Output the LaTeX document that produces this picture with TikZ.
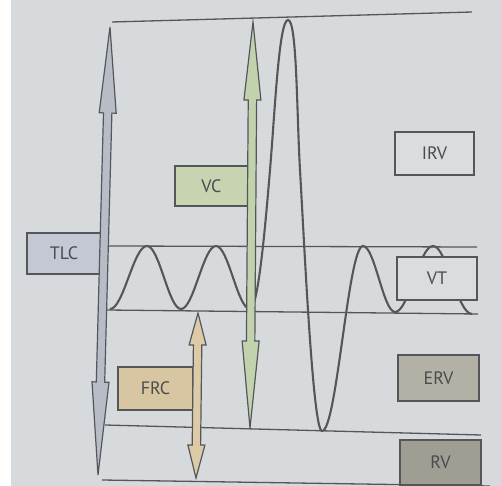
\documentclass[tikz,border=0pt]{standalone}
\usepackage{fontspec}
\setmainfont{PT Sans}
\usepackage{tikz}
\usetikzlibrary{calc}
\definecolor{paper}{HTML}{D7DADD}
\definecolor{linegray}{HTML}{55565A}
\definecolor{textgray}{HTML}{4A4B4D}
\definecolor{tlcfill}{HTML}{C4C7D4}
\definecolor{vcfill}{HTML}{C8D3B2}
\definecolor{frcfill}{HTML}{D8C6A2}
\definecolor{ervfill}{HTML}{B3B0A6}
\definecolor{rvfill}{HTML}{A09E93}
\definecolor{plainfill}{HTML}{DADCDF}
\definecolor{tlcarrow}{HTML}{B7BCC7}
\definecolor{vcarrow}{HTML}{C2D2AD}
\definecolor{frcarrow}{HTML}{DDCBA8}
\tikzset{
  volline/.style={draw=linegray,line width=1.3pt},
  breath/.style={draw=linegray,line width=2.1pt},
  volbox/.style={rectangle,draw=linegray,line width=1.4pt,minimum width=78pt,minimum height=43pt,inner sep=0pt,text=textgray,font=\fontsize{18}{20}\selectfont},
  arrowbody/.style={draw=linegray,line width=1.2pt,line join=miter}
}
% #1 fill, #2 lower tip, #3 upper tip, #4 lower head length, #5 upper head length
\newcommand{\volarrow}[5]{%
  \draw[arrowbody,fill=#1] let \p1=(#2), \p2=(#3),
      \n1={veclen(\x2-\x1,\y2-\y1)}, \n2={atan2(\y2-\y1,\x2-\x1)} in
    [shift={(\p1)},rotate=\n2]
    (0pt,0pt) -- (#4pt,8.5pt) -- (#4pt,4.2pt) -- ({\n1+0pt-#5pt},4.2pt) -- ({\n1+0pt-#5pt},8.5pt)
    -- ({\n1+0pt},0pt) -- ({\n1+0pt-#5pt},-8.5pt) -- ({\n1+0pt-#5pt},-4.2pt) -- (#4pt,-4.2pt)
    -- (#4pt,-8.5pt) -- cycle;}

\begin{document}
\begin{tikzpicture}[x=1pt,y=-1pt]
  \useasboundingbox (0,0) rectangle (501,486);
  \fill[white] (0,0) rectangle (501,486);
  \fill[paper] (11,0) rectangle (501,486);

  % volume levels
  \draw[volline] (112,22) -- (472,12);
  \draw[volline] (108,246) -- (477,247);
  \draw[volline] (107,310) -- (478,314);
  \draw[volline] (105,425) -- (481,435);
  \draw[volline] (102,480) -- (490,486);

  % breathing trace
  \draw[breath] (110,309) cos (128.5,277.5) sin (147,246) cos (164,277.5) sin (181,309)
    cos (198.5,277.5) sin (216,246) cos (233,277.5) sin (250,309)
    .. controls (258,309) and (265,230) .. (270,170)
    .. controls (275,110) and (279,20) .. (288,20)
    .. controls (297,20) and (296.6,110) .. (300,170)
    .. controls (304.6,250) and (313,431) .. (322,431)
    cos (342.5,338.5) sin (363,246) cos (379,279) sin (395,312)
    cos (414,279) sin (433,246) cos (452,280) sin (472,314);

  % boxes
  \node[volbox,fill=tlcfill,minimum width=74pt,minimum height=41pt] (tlc) at (64,253.5) {TLC};
  \node[volbox,fill=vcfill,minimum width=73pt,minimum height=40pt] (vc) at (211.5,186) {VC};
  \node[volbox,fill=plainfill,minimum width=79pt] (irv) at (434.5,153.5) {IRV};
  \node[volbox,fill=plainfill,minimum width=80pt] (vt) at (437,278.5) {VT};
  \node[volbox,fill=ervfill,minimum width=81pt,minimum height=46pt] (erv) at (438.5,378) {ERV};
  \node[volbox,fill=rvfill,minimum width=81pt,minimum height=45pt] (rv) at (440.5,462.5) {RV};
  \node[volbox,fill=frcfill,minimum width=75pt] (frc) at (155.5,388.5) {FRC};

  % volume arrows
  \coordinate (tlc top) at (110,27);
  \coordinate (tlc bot) at (98,475);
  \coordinate (vc top) at (253,22);
  \coordinate (vc bot) at (250,428);
  \coordinate (frc top) at (198,313);
  \coordinate (frc bot) at (196,478);
  \volarrow{tlcarrow}{tlc bot}{tlc top}{93}{86}
  \volarrow{vcarrow}{vc bot}{vc top}{87}{78}
  \volarrow{frcarrow}{frc bot}{frc top}{33}{32}
\end{tikzpicture}
\end{document}
